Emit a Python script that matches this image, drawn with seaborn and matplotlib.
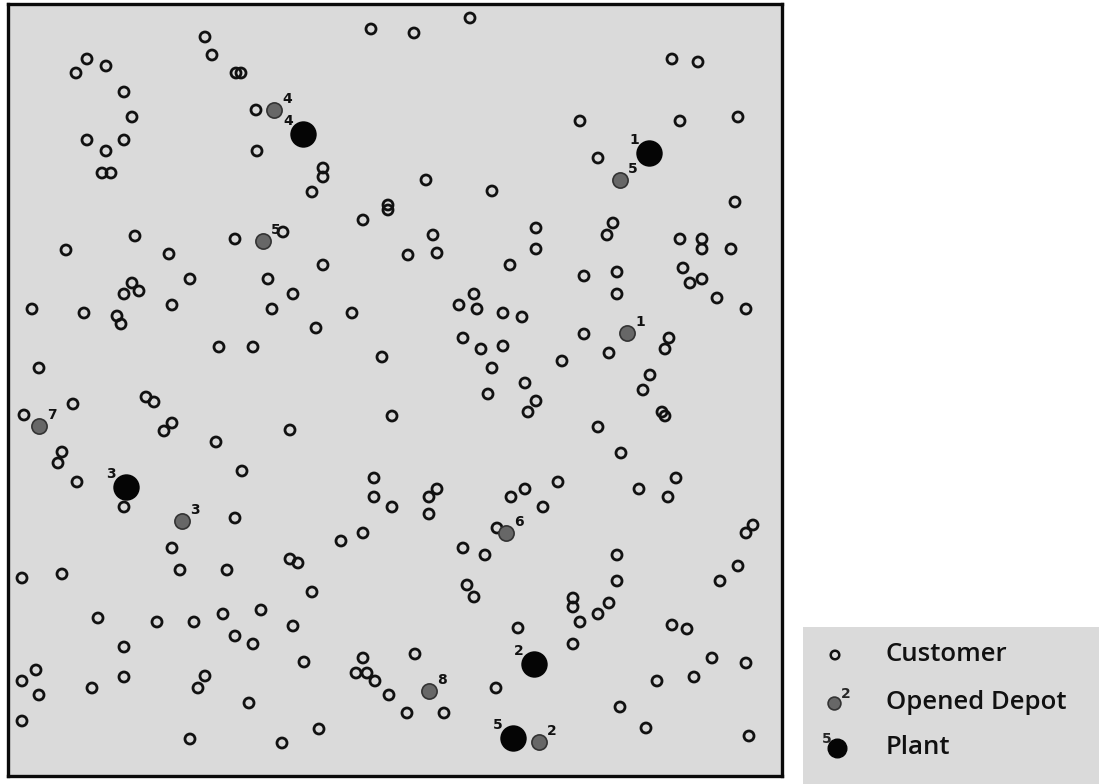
import matplotlib
matplotlib.use("Agg")
import matplotlib.pyplot as plt
import seaborn as sns
import pandas as pd

# positions (pixel-like units, y grows downward)
cust_x = [371, 205, 212, 87, 106, 76, 236, 241, 124, 132, 256, 87, 124, 106, 257,
          102, 111, 323, 323, 312, 363, 388, 388, 135, 66, 169, 235, 283, 323,
          470, 414, 672, 698, 580, 680, 738, 598, 426, 492, 735, 613, 607, 536,
          433, 536, 680, 702, 702, 731, 408, 437, 510,
          190, 132, 139, 124, 268, 293, 32, 84, 117, 121, 172, 272, 352, 316, 219,
          253, 382, 39, 146, 154, 73, 24, 172, 164, 290, 392, 216, 62, 58, 77, 242,
          124, 374, 374, 392, 235,
          584, 617, 617, 683, 702, 690, 717, 746, 474, 459, 477, 503, 522, 463, 481,
          503, 584, 609, 669, 665, 562, 492, 650, 643, 525, 488, 536, 528, 662, 665,
          598, 621, 676, 639, 668, 558, 525, 511, 437, 429, 543, 429,
          341, 363, 172, 180, 227, 290, 298, 312, 22, 62, 98, 157, 194, 223, 261, 293,
          235, 253, 124, 304, 363, 356, 367, 375, 389, 36, 22, 39, 92, 124, 205, 198,
          249, 22, 319, 190, 282,
          497, 463, 485, 467, 474, 617, 617, 573, 573, 609, 598, 580, 518, 573, 753,
          746, 738, 720, 672, 687, 712, 746, 694, 657, 620, 646, 749, 415, 407, 444, 496]
cust_y = [29, 37, 55, 59, 66, 73, 73, 73, 92, 117, 110, 140, 140, 151, 151,
          173, 173, 168, 177, 192, 220, 205, 210, 236, 250, 254, 239, 232, 265,
          18, 33, 59, 62, 121, 121, 117, 158, 180, 191, 202, 223, 235, 228,
          235, 249, 239, 239, 249, 249, 255, 253, 265,
          279, 283, 291, 294, 279, 294, 309, 313, 316, 324, 305, 309, 313, 328, 347,
          347, 357, 368, 397, 402, 404, 415, 423, 431, 430, 416, 442, 452, 463, 482, 471,
          507, 478, 497, 507, 518,
          276, 272, 294, 268, 279, 283, 298, 309, 294, 305, 309, 313, 317, 338, 349,
          346, 334, 353, 338, 349, 361, 368, 375, 390, 383, 394, 401, 412, 412, 416,
          427, 453, 478, 489, 497, 482, 489, 497, 489, 497, 507, 514,
          541, 533, 548, 570, 570, 559, 563, 592, 578, 574, 618, 622, 622, 614, 610, 626,
          636, 644, 647, 662, 658, 673, 673, 681, 695, 670, 681, 695, 688, 677, 676, 688,
          703, 721, 729, 739, 743,
          528, 548, 555, 585, 597, 555, 581, 598, 607, 603, 614, 622, 628, 644, 525,
          533, 566, 581, 625, 629, 658, 663, 677, 681, 707, 728, 736, 654, 713, 713, 688]

depot_x = [274, 620, 263, 627, 39, 182, 506, 429, 539]
depot_y = [110, 180, 241, 333, 426, 521, 533, 691, 742]
depot_lbl = ["4", "5", "5", "1", "7", "3", "6", "8", "2"]

plant_x = [303, 649, 126, 534, 513]
plant_y = [134, 153, 487, 664, 738]
plant_lbl = ["4", "1", "3", "2", "5"]

legend_labels = ["Customer", "Opened Depot", "Plant"]

customers = pd.DataFrame({"x": cust_x, "y": cust_y})
depots = pd.DataFrame({"x": depot_x, "y": depot_y, "lbl": depot_lbl})
plants = pd.DataFrame({"x": plant_x, "y": plant_y, "lbl": plant_lbl})

sns.set_style("white")
W, H = 1099, 784
fig = plt.figure(figsize=(W / 100, H / 100), dpi=100)
fig.patch.set_facecolor("white")

bg = "#dadada"
ax = fig.add_axes([8 / W, 1 - 776 / H, 774 / W, 772 / H])
ax.set_facecolor(bg)

sns.scatterplot(data=customers, x="x", y="y", ax=ax, s=52, marker="o",
                facecolor="none", edgecolor="#111111", linewidth=2.0, zorder=3)
sns.scatterplot(data=depots, x="x", y="y", ax=ax, s=120, color="#676767",
                edgecolor="#333333", linewidth=1.2, zorder=4)
sns.scatterplot(data=plants, x="x", y="y", ax=ax, s=310, color="#050505",
                edgecolor="#050505", zorder=5)

# number tags: depots up-right, plants up-left
for _, r in depots.iterrows():
    ax.text(r["x"] + 8, r["y"] - 4, r["lbl"], fontsize=10, fontweight="bold",
            ha="left", va="bottom", color="#111111", zorder=6)
for _, r in plants.iterrows():
    ax.text(r["x"] - 10, r["y"] - 6, r["lbl"], fontsize=10, fontweight="bold",
            ha="right", va="bottom", color="#111111", zorder=6)

ax.set_xlim(8, 782)
ax.set_ylim(776, 4)
ax.set_xticks([])
ax.set_yticks([])
ax.set_xlabel("")
ax.set_ylabel("")
for sp in ax.spines.values():
    sp.set_visible(True)
    sp.set_linewidth(2.4)
    sp.set_color("#0a0a0a")

# legend panel
lax = fig.add_axes([803 / W, 0, 296 / W, 157 / H])
lax.set_facecolor(bg)
lax.set_xlim(803, 1099)
lax.set_ylim(784, 627)
lax.set_xticks([])
lax.set_yticks([])
for sp in lax.spines.values():
    sp.set_visible(False)

leg_y = [655, 703, 748]
lax.scatter([835], [leg_y[0]], s=38, facecolor="none", edgecolor="#111111", linewidth=1.8)
lax.scatter([834], [leg_y[1]], s=85, color="#676767", edgecolor="#333333", linewidth=1.2)
lax.text(841, leg_y[1] - 2, "2", fontsize=10, fontweight="bold", ha="left", va="bottom")
lax.scatter([837], [leg_y[2]], s=180, color="#050505")
lax.text(832, leg_y[2] - 2, "5", fontsize=10, fontweight="bold", ha="right", va="bottom")
for yy, lab in zip(leg_y, legend_labels):
    lax.text(886, yy, lab, fontsize=18.5, fontweight="semibold", family="Open Sans",
             ha="left", va="center", color="#111111")

fig.savefig("out.png", dpi=100)
